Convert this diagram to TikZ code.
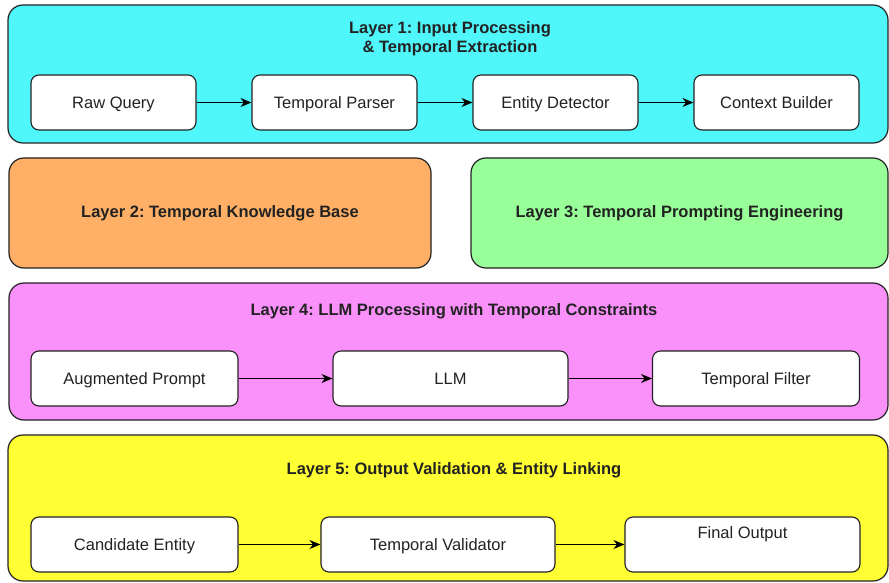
\documentclass[tikz,border=0pt]{standalone}
\usepackage{fontspec}
\setmainfont{Liberation Sans}
\frenchspacing
\usetikzlibrary{arrows.meta}
\definecolor{lcyan}{RGB}{80,247,250}
\definecolor{lorange}{RGB}{255,176,102}
\definecolor{lgreen}{RGB}{153,255,153}
\definecolor{lpink}{RGB}{250,145,250}
\definecolor{lyellow}{RGB}{255,255,51}
\definecolor{ink}{RGB}{34,34,34}
\tikzset{
  layer/.style={draw=ink, line width=1.2pt, rounded corners=15pt, inner sep=0pt},
  title/.style={font=\fontsize{16.5}{19}\selectfont\bfseries, text=ink, align=center, inner sep=0pt},
  box/.style={draw=ink, line width=1.1pt, fill=white, rounded corners=8pt, minimum height=55pt,
              font=\fontsize{16.5}{19}\selectfont, text=ink, inner sep=0pt, text height=13.5pt, text depth=2pt},
  arr/.style={-{Stealth[length=11pt,width=9pt]}, line width=1.4pt, draw=black}
}
\begin{document}
\begin{tikzpicture}[x=1pt,y=-1pt]
\useasboundingbox (0,0) rectangle (889,583);
% layer boxes
\node[layer, fill=lcyan, minimum width=880pt, minimum height=138pt] (L1) at (448,74) {};
\node[layer, fill=lorange, minimum width=422pt, minimum height=110pt, title] (L2) at (220,213) {Layer 2: Temporal Knowledge Base};
\node[layer, fill=lgreen, minimum width=417pt, minimum height=110pt, title] (L3) at (679.5,213) {Layer 3: Temporal Prompting Engineering};
\node[layer, fill=lpink, minimum width=879pt, minimum height=137pt] (L4) at (448.5,351.5) {};
\node[layer, fill=lyellow, minimum width=880pt, minimum height=146pt] (L5) at (448,508) {};
% titles
\node[title] (T1) at (450,38.5) {Layer 1: Input Processing\\[-0.5pt]\& Temporal Extraction};
\node[title] (T4) at (454,311.5) {Layer 4: LLM Processing with Temporal Constraints};
\node[title] (T5) at (454,470.5) {Layer 5: Output Validation \& Entity Linking};
% layer 1 row
\node[box, minimum width=165pt] (raw) at (113.5,102.5) {Raw Query};
\node[box, minimum width=165pt] (parser) at (334.5,102.5) {Temporal Parser};
\node[box, minimum width=165pt] (detector) at (555.5,102.5) {Entity Detector};
\node[box, minimum width=165pt] (context) at (776.5,102.5) {Context Builder};
\draw[arr] (raw) -- (parser);
\draw[arr] (parser) -- (detector);
\draw[arr] (detector) -- (context);
% layer 4 row
\node[box, minimum width=207pt] (aug) at (134.5,378.5) {Augmented Prompt};
\node[box, minimum width=235pt] (llm) at (450.5,378.5) {LLM};
\node[box, minimum width=207pt] (filter) at (756,378.5) {Temporal Filter};
\draw[arr] (aug) -- (llm);
\draw[arr] (llm) -- (filter);
% layer 5 row
\node[box, minimum width=207pt] (cand) at (134.5,544.5) {Candidate Entity};
\node[box, minimum width=234pt] (valid) at (438,544.5) {Temporal Validator};
\node[box, minimum width=235pt] (final) at (742.5,544.5) {};
\node[font=\fontsize{16.5}{19}\selectfont, text=ink, inner sep=0pt] (finaltxt) at (742.5,534.5) {Final Output};
\draw[arr] (cand) -- (valid);
\draw[arr] (valid) -- (final);
\end{tikzpicture}
\end{document}
